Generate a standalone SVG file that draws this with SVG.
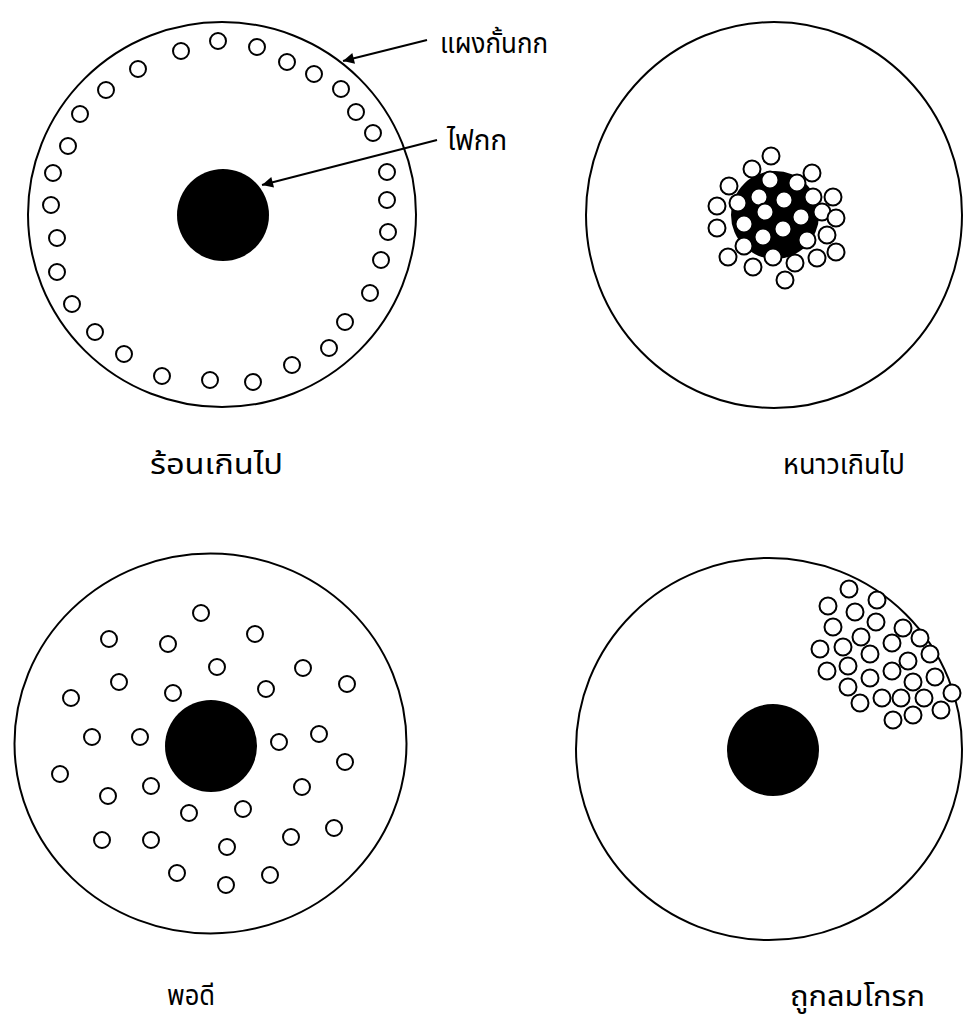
<svg xmlns="http://www.w3.org/2000/svg" width="963" height="1023" viewBox="0 0 963 1023">
<style>
.ring{fill:none;stroke:#000;stroke-width:2}
.lamp{fill:#000}
.c{fill:#fff;stroke:#000;stroke-width:2}
.lbl{font-family:"Noto Sans Thai","Noto Sans Thai UI","Noto Serif Thai","Noto Sans","DejaVu Sans",sans-serif;font-size:28px;fill:#000}
.conn{stroke:#000;stroke-width:2;fill:none}
</style>
<defs>
<marker id="ah2" viewBox="0 0 10 10" refX="10" refY="5" markerWidth="16" markerHeight="11" markerUnits="userSpaceOnUse" orient="auto">
<path d="M0,0 L10,5 L0,10 z" fill="#000"/>
</marker>
</defs>

<g id="too-hot">
<ellipse class="ring" cx="222" cy="214.5" rx="194" ry="192.5"/>
<circle class="lamp" cx="223" cy="215" r="46"/>
<g>
<circle class="c" cx="181" cy="51" r="8"/>
<circle class="c" cx="218" cy="41" r="8"/>
<circle class="c" cx="257" cy="47" r="8"/>
<circle class="c" cx="287" cy="62" r="8"/>
<circle class="c" cx="314" cy="74" r="8"/>
<circle class="c" cx="341" cy="89" r="8"/>
<circle class="c" cx="356" cy="112" r="8"/>
<circle class="c" cx="373" cy="133" r="8"/>
<circle class="c" cx="387" cy="172" r="8"/>
<circle class="c" cx="387" cy="200" r="8"/>
<circle class="c" cx="388" cy="232" r="8"/>
<circle class="c" cx="381" cy="260" r="8"/>
<circle class="c" cx="370" cy="293" r="8"/>
<circle class="c" cx="345" cy="322" r="8"/>
<circle class="c" cx="329" cy="348" r="8"/>
<circle class="c" cx="292" cy="365" r="8"/>
<circle class="c" cx="253" cy="382" r="8"/>
<circle class="c" cx="210" cy="380" r="8"/>
<circle class="c" cx="162" cy="376" r="8"/>
<circle class="c" cx="124" cy="354" r="8"/>
<circle class="c" cx="95" cy="332" r="8"/>
<circle class="c" cx="72" cy="304" r="8"/>
<circle class="c" cx="57" cy="272" r="8"/>
<circle class="c" cx="57" cy="238" r="8"/>
<circle class="c" cx="51" cy="205" r="8"/>
<circle class="c" cx="53" cy="173" r="8"/>
<circle class="c" cx="68" cy="146" r="8"/>
<circle class="c" cx="80" cy="114" r="8"/>
<circle class="c" cx="106" cy="90" r="8"/>
<circle class="c" cx="138" cy="69" r="8"/>
</g>
<text class="lbl" x="150" y="474" textLength="133" lengthAdjust="spacingAndGlyphs">ร้อนเกินไป</text>
</g>

<g id="label-guard">
<text class="lbl" x="440" y="53" textLength="108" lengthAdjust="spacingAndGlyphs">แผงกั้นกก</text>
</g>
<g id="label-lamp">
<text class="lbl" x="447" y="150" textLength="60" lengthAdjust="spacingAndGlyphs">ไฟกก</text>
</g>

<g id="too-cold">
<ellipse class="ring" cx="774" cy="215" rx="188" ry="193"/>
<circle class="lamp" cx="775" cy="215" r="44"/>
<g>
<circle class="c" cx="771" cy="156" r="8.5"/>
<circle class="c" cx="752" cy="169" r="8.5"/>
<circle class="c" cx="812" cy="173" r="8.5"/>
<circle class="c" cx="729" cy="186" r="8.5"/>
<circle class="c" cx="770" cy="180" r="8.5"/>
<circle class="c" cx="797" cy="183" r="8.5"/>
<circle class="c" cx="813" cy="197" r="8.5"/>
<circle class="c" cx="833" cy="197" r="8.5"/>
<circle class="c" cx="738" cy="203" r="8.5"/>
<circle class="c" cx="759" cy="197" r="8.5"/>
<circle class="c" cx="784" cy="200" r="8.5"/>
<circle class="c" cx="717" cy="206" r="8.5"/>
<circle class="c" cx="822" cy="212" r="8.5"/>
<circle class="c" cx="836" cy="218" r="8.5"/>
<circle class="c" cx="765" cy="212" r="8.5"/>
<circle class="c" cx="801" cy="217" r="8.5"/>
<circle class="c" cx="717" cy="228" r="8.5"/>
<circle class="c" cx="744" cy="224" r="8.5"/>
<circle class="c" cx="783" cy="229" r="8.5"/>
<circle class="c" cx="827" cy="235" r="8.5"/>
<circle class="c" cx="763" cy="237" r="8.5"/>
<circle class="c" cx="807" cy="240" r="8.5"/>
<circle class="c" cx="744" cy="246" r="8.5"/>
<circle class="c" cx="728" cy="257" r="8.5"/>
<circle class="c" cx="836" cy="252" r="8.5"/>
<circle class="c" cx="817" cy="258" r="8.5"/>
<circle class="c" cx="773" cy="257" r="8.5"/>
<circle class="c" cx="795" cy="263" r="8.5"/>
<circle class="c" cx="753" cy="267" r="8.5"/>
<circle class="c" cx="785" cy="280" r="8.5"/>
</g>
<text class="lbl" x="783" y="474" textLength="122" lengthAdjust="spacingAndGlyphs">หนาวเกินไป</text>
</g>

<g id="just-right">
<ellipse class="ring" cx="210.5" cy="743.5" rx="196" ry="190"/>
<circle class="lamp" cx="211" cy="746" r="46"/>
<g>
<circle class="c" cx="201" cy="613" r="8"/>
<circle class="c" cx="109" cy="639" r="8"/>
<circle class="c" cx="168" cy="644" r="8"/>
<circle class="c" cx="255" cy="634" r="8"/>
<circle class="c" cx="217" cy="667" r="8"/>
<circle class="c" cx="303" cy="668" r="8"/>
<circle class="c" cx="347" cy="684" r="8"/>
<circle class="c" cx="119" cy="682" r="8"/>
<circle class="c" cx="173" cy="693" r="8"/>
<circle class="c" cx="266" cy="689" r="8"/>
<circle class="c" cx="71" cy="698" r="8"/>
<circle class="c" cx="92" cy="737" r="8"/>
<circle class="c" cx="140" cy="737" r="8"/>
<circle class="c" cx="279" cy="742" r="8"/>
<circle class="c" cx="319" cy="734" r="8"/>
<circle class="c" cx="345" cy="762" r="8"/>
<circle class="c" cx="60" cy="774" r="8"/>
<circle class="c" cx="151" cy="786" r="8"/>
<circle class="c" cx="108" cy="796" r="8"/>
<circle class="c" cx="302" cy="787" r="8"/>
<circle class="c" cx="189" cy="813" r="8"/>
<circle class="c" cx="243" cy="809" r="8"/>
<circle class="c" cx="334" cy="828" r="8"/>
<circle class="c" cx="102" cy="840" r="8"/>
<circle class="c" cx="151" cy="840" r="8"/>
<circle class="c" cx="291" cy="837" r="8"/>
<circle class="c" cx="227" cy="847" r="8"/>
<circle class="c" cx="177" cy="873" r="8"/>
<circle class="c" cx="226" cy="885" r="8"/>
<circle class="c" cx="270" cy="875" r="8"/>
</g>
<text class="lbl" x="167" y="1005" textLength="48" lengthAdjust="spacingAndGlyphs">พอดี</text>
</g>

<g id="draft">
<ellipse class="ring" cx="769" cy="749" rx="193" ry="191"/>
<circle class="lamp" cx="773" cy="750" r="46"/>
<g>
<circle class="c" cx="849" cy="589" r="8.5"/>
<circle class="c" cx="877" cy="600" r="8.5"/>
<circle class="c" cx="828" cy="606" r="8.5"/>
<circle class="c" cx="855" cy="612" r="8.5"/>
<circle class="c" cx="876" cy="622" r="8.5"/>
<circle class="c" cx="833" cy="627" r="8.5"/>
<circle class="c" cx="903" cy="628" r="8.5"/>
<circle class="c" cx="861" cy="637" r="8.5"/>
<circle class="c" cx="920" cy="638" r="8.5"/>
<circle class="c" cx="892" cy="643" r="8.5"/>
<circle class="c" cx="820" cy="649" r="8.5"/>
<circle class="c" cx="843" cy="647" r="8.5"/>
<circle class="c" cx="930" cy="654" r="8.5"/>
<circle class="c" cx="870" cy="654" r="8.5"/>
<circle class="c" cx="908" cy="661" r="8.5"/>
<circle class="c" cx="848" cy="666" r="8.5"/>
<circle class="c" cx="827" cy="671" r="8.5"/>
<circle class="c" cx="892" cy="671" r="8.5"/>
<circle class="c" cx="870" cy="678" r="8.5"/>
<circle class="c" cx="935" cy="677" r="8.5"/>
<circle class="c" cx="913" cy="682" r="8.5"/>
<circle class="c" cx="848" cy="687" r="8.5"/>
<circle class="c" cx="952" cy="693" r="8.5"/>
<circle class="c" cx="882" cy="698" r="8.5"/>
<circle class="c" cx="901" cy="698" r="8.5"/>
<circle class="c" cx="924" cy="698" r="8.5"/>
<circle class="c" cx="860" cy="703" r="8.5"/>
<circle class="c" cx="941" cy="710" r="8.5"/>
<circle class="c" cx="913" cy="715" r="8.5"/>
<circle class="c" cx="893" cy="720" r="8.5"/>
</g>
<text class="lbl" x="790" y="1006" textLength="135" lengthAdjust="spacingAndGlyphs">ถูกลมโกรก</text>
</g>

<g id="connectors">
<line class="conn" x1="427" y1="40" x2="343" y2="61" marker-end="url(#ah2)"/>
<line class="conn" x1="437" y1="140" x2="262" y2="185" marker-end="url(#ah2)"/>
</g>
</svg>
